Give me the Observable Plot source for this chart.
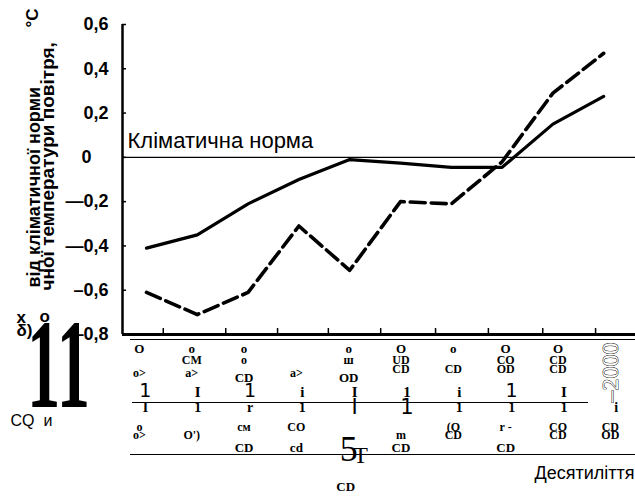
<!DOCTYPE html>
<html><head><meta charset="utf-8">
<script src="https://cdn.jsdelivr.net/npm/d3@7"></script>
<script src="https://cdn.jsdelivr.net/npm/@observablehq/plot@0.6"></script>
<style>body{margin:0;background:#fff}</style>
</head><body><div id="chart"></div>
<script>
// Decades (x categories)
const decades = ["1901–1910","1911–1920","1921–1930","1931–1940","1941–1950","1951–1960","1961–1970","1971–1980","1981–1990","1991–2000"];
// Deviation from climate norm, °C
const solidSeries = [-0.41, -0.35, -0.21, -0.10, -0.01, -0.026, -0.045, -0.045, 0.15, 0.275];
const dashedSeries = [-0.61, -0.71, -0.61, -0.31, -0.51, -0.20, -0.21, -0.02, 0.29, 0.47];
const yTicks = [0.6, 0.4, 0.2, -0.2, -0.4, -0.6, -0.8];
const yTickLabels = ["0,6", "0,4", "0,2", "—0,2", "—0,4", "–0,6", "—0,8"];
const zeroLabel = ["0"];
const xTickPositions = [0.33, 1.56, 2.58, 3.58, 4.61, 5.69, 6.73, 7.80, 8.84];
const normLabel = ["Кліматична норма"];
const yTitle1 = ["від кліматичної норми"];
const yTitle2 = ["чної температури повітря,"];
const yUnit = ["°С"];
const xTitle = ["Десятиліття"];
// Garbled (scanned) decade labels, as they appear
const rowA = ["O","o","o","","o","O","o","O","O",""];
const rowB = ["","CM","o","","ш","UD","","CO","CD",""];
const rowC = ["","","","","","CD","CD","OD","CD",""];
const rowD = ["o>","a>","","a>","","","","","",""];
const rowE = ["","","CD","","OD","","","","",""];
const rowFserif = ["","I","","i","I","1","i","","I",""];
const rowFsans = ["1","","1","","","","","1","",""];
const rowG = ["I","1","r","1","","","1","1","1","i"];
const rowGbig = ["","","","","I","1","","","",""];
const rowH = ["o","","cм","CO","","","(O","r -","CO","CD"];
const rowI = ["o>","O')","","","","m","CD","","CD","OD"];
const rowJ = ["","","CD","cd","","CD","","CD","",""];
const lastCol = ["–2000"];
const stray5 = ["5"], strayT = ["T"], strayCD = ["CD"];
const leftBits1 = ["x"], leftBits2 = ["δ)"], leftBits3 = ["CQ  и"], leftBlob = ["11"], leftO = ["о"];

const W = 635, H = 497, ML = 122, MT = 24, MB = 163;
const FB = H - MB; // frame bottom pixel
const colX = (d, i) => i * 1.03 - 0.14;
const serif = "Liberation Serif";
const sans = "Liberation Sans";

const row = (tokens, yPix, opts = {}) => Plot.text(tokens, {
  x: colX, frameAnchor: "bottom", dy: yPix - FB, text: d => d,
  fontFamily: serif, fontWeight: "bold", fontSize: 13, fill: "black", ...opts
});

const chart = Plot.plot({
  width: W, height: H,
  marginLeft: ML, marginRight: 0, marginTop: MT, marginBottom: MB,
  style: {background: "white", color: "black", fontFamily: sans},
  x: {type: "linear", domain: [-24 / 50.8, 489 / 50.8], axis: null},
  y: {domain: [-0.8, 0.6], axis: null},
  marks: [
    // axes
    Plot.ruleY([0], {stroke: "black", strokeWidth: 1.2}),
    Plot.ruleX([-24 / 50.8], {y1: -0.8, y2: 0.6, stroke: "black", strokeWidth: 2.5}),
    Plot.ruleY([-0.8], {stroke: "black", strokeWidth: 3}),
    Plot.tickY([0.6, 0.4, 0.2, 0, -0.2, -0.4, -0.6], {y: d => d, insetRight: W - ML - 4, strokeWidth: 1.5}),
    Plot.tickX(xTickPositions, {x: d => d, insetTop: H - MT - MB - 6, strokeWidth: 1.5}),
    // table rules
    Plot.ruleY([-0.8], {dy: 5, insetLeft: 8, strokeWidth: 1.2}),
    Plot.ruleY([-0.8], {dy: 68, insetLeft: 10, insetRight: 47, strokeWidth: 1.2}),
    Plot.ruleY([-0.8], {dy: 120, insetLeft: 8, strokeWidth: 1.2}),
    // y tick labels
    Plot.text(yTicks, {y: d => d, text: (d, i) => yTickLabels[i], frameAnchor: "left", textAnchor: "end", dx: -14, fontSize: 18, fontWeight: "bold", fontFamily: sans}),
    Plot.text(zeroLabel, {y: 0, text: d => d, frameAnchor: "left", textAnchor: "start", dx: -41, fontSize: 18, fontWeight: "bold", fontFamily: sans}),
    // y title
    Plot.text(yTitle1, {text: d => d, frameAnchor: "bottom-left", rotate: -90, textAnchor: "start", lineAnchor: "middle", dx: -88, dy: -47, fontSize: 18, fontWeight: "bold", fontFamily: sans}),
    Plot.text(yTitle2, {text: d => d, frameAnchor: "bottom-left", rotate: -90, textAnchor: "start", lineAnchor: "middle", dx: -75, dy: -44, fontSize: 19, fontWeight: "bold", fontFamily: sans}),
    Plot.text(yUnit, {text: d => d, frameAnchor: "bottom-left", rotate: -90, textAnchor: "start", lineAnchor: "middle", dx: -90, dy: -307, fontSize: 17, fontWeight: "bold", fontFamily: sans}),
    // norm label
    Plot.text(normLabel, {x: -24 / 50.8, y: 0, text: d => d, textAnchor: "start", lineAnchor: "bottom", dx: 5, dy: -9, fontSize: 22, fontFamily: sans}),
    // data lines
    Plot.line(solidSeries, {x: (d, i) => i, y: d => d, stroke: "black", strokeWidth: 3.2, strokeLinejoin: "round", strokeLinecap: "round"}),
    Plot.line(dashedSeries, {x: (d, i) => i, y: d => d, stroke: "black", strokeWidth: 3.6, strokeDasharray: "15,6"}),
    // garbled table text
    row(rowA, 352),
    row(rowB, 363, {fontSize: 12}),
    row(rowC, 372, {fontSize: 12}),
    row(rowD, 376, {fontSize: 12}),
    row(rowE, 381),
    row(rowFserif, 396, {dx: 6, fontSize: 15}),
    row(rowFsans, 396, {dx: 6, fontSize: 19, fontWeight: "normal", fontFamily: "DejaVu Sans"}),
    row(rowG, 411, {dx: 6, fontSize: 14}),
    row(rowGbig, 413, {dx: 6, fontSize: 21, fontWeight: "normal", fontFamily: "DejaVu Sans"}),
    row(rowH, 430, {fontSize: 12}),
    row(rowI, 438, {fontSize: 12}),
    row(rowJ, 451, {fontSize: 13}),
    Plot.text(lastCol, {x: 9 * 1.03 - 0.14, frameAnchor: "bottom", dy: 402 - FB, text: d => d, rotate: -90, textAnchor: "start", lineAnchor: "middle", fontSize: 24, fontFamily: serif, fill: "white", stroke: "black", strokeWidth: 0.9}),
    Plot.text(stray5, {x: 4 * 1.03 - 0.14, frameAnchor: "bottom", dy: 460 - FB, dx: 0, text: d => d, fontSize: 36, fontFamily: serif, fill: "black"}),
    Plot.text(strayT, {x: 4 * 1.03 - 0.14, frameAnchor: "bottom", dy: 462 - FB, dx: 12, text: d => d, fontSize: 24, fontFamily: serif, fill: "black"}),
    Plot.text(strayCD, {x: 4 * 1.03 - 0.14, frameAnchor: "bottom", dy: 490 - FB, dx: -3, text: d => d, fontSize: 13, fontWeight: "bold", fontFamily: serif}),
    // left stray bits
    Plot.text(leftBits1, {frameAnchor: "bottom-left", dx: -106, dy: 322 - FB, text: d => d, fontSize: 17, fontWeight: "bold", fontFamily: sans}),
    Plot.text(leftO, {frameAnchor: "bottom-left", dx: -83, dy: 321 - FB, text: d => d, fontSize: 17, fontWeight: "bold", fontFamily: sans}),
    Plot.text(leftBits2, {frameAnchor: "bottom-left", dx: -106, dy: 335 - FB, text: d => d, fontSize: 17, fontWeight: "bold", fontFamily: sans}),
    Plot.text(leftBits3, {frameAnchor: "bottom-left", dx: -112, dy: 425 - FB, text: d => d, fontSize: 16, fontFamily: sans}),
    Plot.text(leftBlob, {frameAnchor: "bottom-left", textAnchor: "middle", dx: -64, dy: 406 - FB, lineAnchor: "bottom", text: d => d, fontSize: 128, fontWeight: "bold", fontFamily: serif, fill: "black"}),
    // x title
    Plot.text(xTitle, {frameAnchor: "bottom-right", dx: -1, dy: 478 - FB, lineAnchor: "bottom", textAnchor: "end", text: d => d, fontSize: 18, fontFamily: sans})
  ]
});

document.getElementById("chart").append(chart);

// horizontally condense the big scanned blob around its own centre
d3.select(chart).selectAll("text").filter(function() { return this.textContent === "11"; }).each(function() {
  const parent = this.parentNode;
  const r = this.getBoundingClientRect();
  const m = parent.getScreenCTM().inverse();
  const p = new DOMPoint(r.x + r.width / 2, r.y + r.height / 2).matrixTransform(m);
  const g = document.createElementNS("http://www.w3.org/2000/svg", "g");
  parent.insertBefore(g, this);
  g.appendChild(this);
  g.setAttribute("transform", `translate(${p.x},0) scale(0.52,1) translate(${-p.x},0)`);
});
</script>
</body></html>
